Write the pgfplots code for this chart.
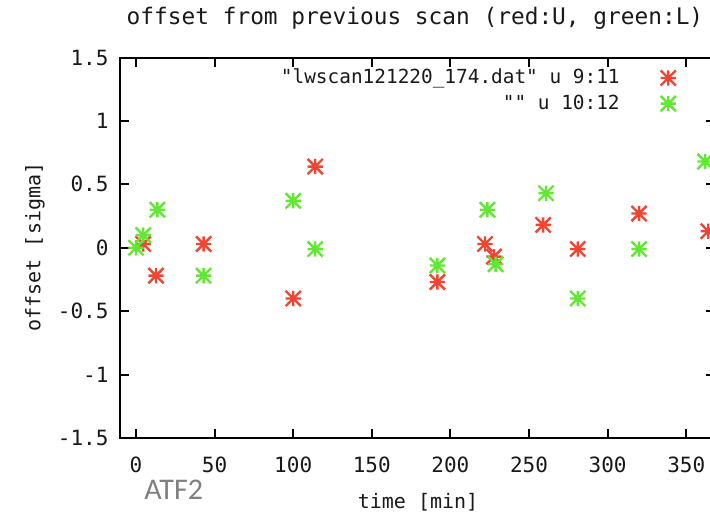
\documentclass[border=0pt]{standalone}
\usepackage{fontspec}
\usepackage{pgfplots}
\pgfplotsset{compat=1.18}
\newfontfamily\gpfont{DejaVu Sans Mono}
\newfontfamily\atffont{Carlito}
\definecolor{gpred}{RGB}{238,70,52}
\definecolor{gpgreen}{RGB}{98,232,52}
\definecolor{gptext}{RGB}{25,25,25}
% gnuplot point type 3: a plus laid over a cross
\pgfdeclareplotmark{gpstar}{%
  \pgfpathmoveto{\pgfqpoint{-\pgfplotmarksize}{0pt}}%
  \pgfpathlineto{\pgfqpoint{\pgfplotmarksize}{0pt}}%
  \pgfpathmoveto{\pgfqpoint{0pt}{-\pgfplotmarksize}}%
  \pgfpathlineto{\pgfqpoint{0pt}{\pgfplotmarksize}}%
  \pgfpathmoveto{\pgfqpoint{-\pgfplotmarksize}{-\pgfplotmarksize}}%
  \pgfpathlineto{\pgfqpoint{\pgfplotmarksize}{\pgfplotmarksize}}%
  \pgfpathmoveto{\pgfqpoint{-\pgfplotmarksize}{\pgfplotmarksize}}%
  \pgfpathlineto{\pgfqpoint{\pgfplotmarksize}{-\pgfplotmarksize}}%
  \pgfusepathqstroke}
\begin{document}
\begin{tikzpicture}
\begin{axis}[
  scale only axis,
  width=297.5pt, height=190.25pt,
  at={(59.75pt,38.5pt)}, anchor=south west,
  xmin=-10.5, xmax=368,
  ymin=-1.5, ymax=1.5,
  xtick={0,50,...,350},
  ytick={-1.5,-1,-0.5,0,0.5,1,1.5},
  yticklabels={-1.5,-1,-0.5,0,0.5,1,1.5},
  xticklabels={0,50,100,150,200,250,300,350},
  tick label style={font=\gpfont\fontsize{10.5}{12}\selectfont, text=gptext},
  xticklabel style={yshift=-6pt},
  yticklabel style={xshift=-2pt},
  axis line style={line width=1pt, black},
  major tick length=4.5pt,
  every tick/.style={line width=1pt, black},
  legend cell align=right,
  legend plot pos=right,
  legend style={draw=none, fill=none, at={(axis cs:347.5,1.475)}, anchor=north east,
    font=\gpfont\fontsize{9.7}{13.5}\selectfont, text=gptext,
    row sep=0pt, column sep=18.5pt},
  mark size=3.8pt,
]
\addplot[only marks, mark=gpstar, gpred, line width=1.2pt] coordinates {
  (4.6,0.03) (12.7,-0.22) (43,0.03) (100,-0.40) (114,0.64) (191.7,-0.27)
  (222,0.03) (227.7,-0.07) (259,0.18) (281,-0.01) (320,0.27) (364,0.13)
};
\addlegendentry{"lwscan121220\_174.dat" u 9:11}
\addplot[only marks, mark=gpstar, gpgreen, line width=1.2pt] coordinates {
  (0,0) (4.6,0.10) (13.6,0.30) (43,-0.22) (100,0.37) (114,-0.01) (191.7,-0.14)
  (223.5,0.30) (228.8,-0.13) (260.8,0.43) (281,-0.40) (320,-0.01) (362,0.68)
};
\addlegendentry{"" u 10:12}
\end{axis}
\node[font=\gpfont\fontsize{11.4}{13}\selectfont, text=gptext] at (207.5pt,248.5pt)
  {offset from previous scan (red:U, green:L)};
\node[font=\gpfont\fontsize{10}{12}\selectfont, text=gptext] at (209pt,6.5pt) {time [min]};
\node[font=\gpfont\fontsize{10}{12}\selectfont, text=gptext, rotate=90] at (17.5pt,134pt) {offset [sigma]};
\node[font=\atffont\fontsize{15}{18}\selectfont, text=black!50, anchor=west, inner sep=0pt] at (72pt,12.5pt) {ATF2};
\pgfresetboundingbox
\path[use as bounding box] (0,0) rectangle (355pt,257.5pt);
\end{tikzpicture}
\end{document}
